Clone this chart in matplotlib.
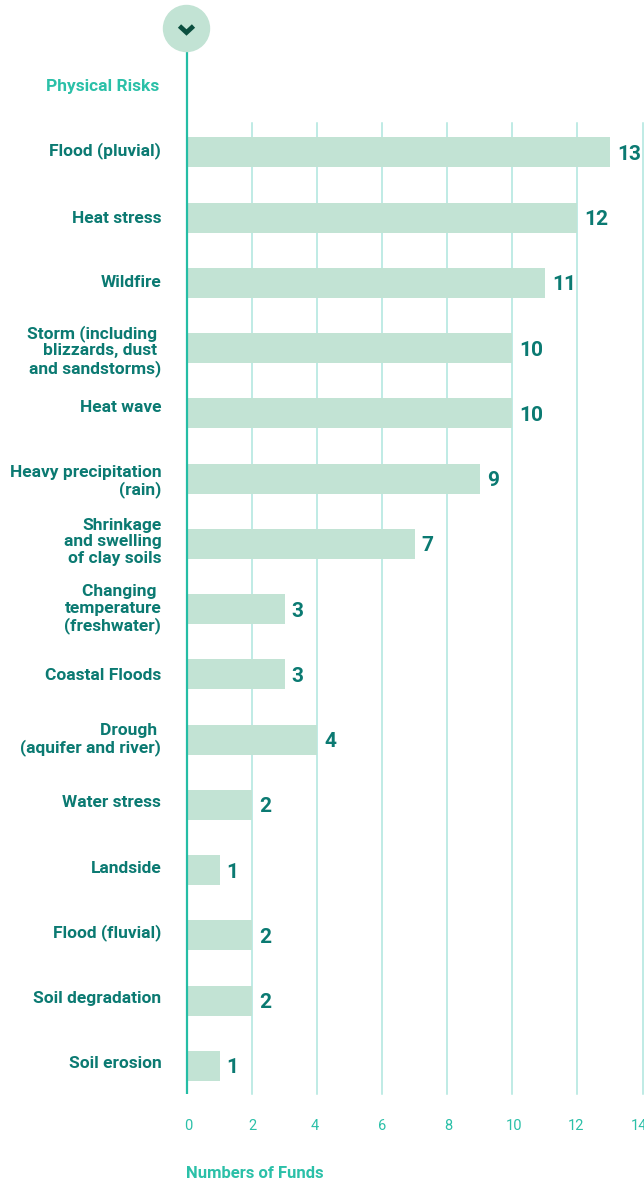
import matplotlib
matplotlib.use('Agg')
import matplotlib.pyplot as plt
from matplotlib.patches import Circle

W, H = 644, 1185

categories = ['Flood (pluvial)', 'Heat stress', 'Wildfire',
              'Storm (including \nblizzards, dust \nand sandstorms)', 'Heat wave',
              'Heavy precipitation\n(rain)', 'Shrinkage\nand swelling\nof clay soils',
              'Changing \ntemperature\n(freshwater)', 'Coastal Floods',
              'Drough \n(aquifer and river)', 'Water stress', 'Landside',
              'Flood (fluvial)', 'Soil degradation', 'Soil erosion']
values = [13, 12, 11, 10, 10, 9, 7, 3, 3, 4, 2, 1, 2, 2, 1]
x_ticks = [0, 2, 4, 6, 8, 10, 12, 14]

# label nudge relative to the bar centre, in pixels
label_shift = [2, -1, 0, -3, 6, -3, 2, 0, -1, 0, 2, 2, 3, 2, 2]

DARK = '#0b7a72'
TEAL = '#2bc0a8'
BAR = '#c2e3d4'
GRID = '#aee6de'
FONT = ['Roboto', 'Liberation Sans', 'DejaVu Sans']

fig = plt.figure(figsize=(W / 100, H / 100), dpi=100)
ax = fig.add_axes([187 / W, 1 - 1094 / H, 455.5 / W, (1094 - 123) / H])
ax.set_xlim(0, 14)
ax.set_ylim(14.432, -0.449)
ax.axis('off')

# Grid lines first, bars on top
for t in x_ticks[1:]:
    ax.axvline(t, color=GRID, lw=1.1, zorder=1, clip_on=False)

ypos = list(range(len(values)))
ax.barh(ypos, values, height=30 / 65.25, color=BAR, zorder=2)

# Value labels and category labels
for y, v, name, shift in zip(ypos, values, categories, label_shift):
    ax.annotate(str(v), (v, y), xytext=(5, -1.5), textcoords='offset points',
                ha='left', va='center', fontsize=15, fontweight='bold',
                color=DARK, family=FONT, zorder=4)
    ax.annotate(name, (0, y), xytext=(-18.5, shift * 0.72), textcoords='offset points',
                ha='right', va='center', ma='right', fontsize=12.5, fontweight='bold',
                linespacing=1.13, color=DARK, family=FONT)


def fx(px):
    return px / W


def fy(py):
    return 1 - py / H


# Tick labels
tick_px = [188, 252, 315, 382, 448, 514, 576, 639]
for t, px in zip(x_ticks, tick_px):
    fig.text(fx(px), fy(1126), str(t), ha='center', va='center', fontsize=10.5,
             color=TEAL, family=FONT)

fig.text(fx(159), fy(86), 'Physical Risks', ha='right', va='center', fontsize=12.5,
         fontweight='bold', color=TEAL, family=FONT)
fig.text(fx(186), fy(1174), 'Numbers of Funds', ha='left', va='center', fontsize=12,
         fontweight='bold', color=TEAL, family=FONT)

# Main axis line with the round marker on top
overlay = fig.add_axes([0, 0, 1, 1], facecolor='none')
overlay.set_xlim(0, W)
overlay.set_ylim(H, 0)
overlay.axis('off')
overlay.plot([187, 187], [50, 1094], color='#25bda5', lw=1.6, solid_capstyle='butt', zorder=3)
overlay.add_patch(Circle((186.5, 28.5), 23, color=BAR, zorder=4))
overlay.plot([179.5, 186.5, 193.5], [26, 32.5, 26], color='#0b4f3f', lw=3.4,
             solid_capstyle='butt', solid_joinstyle='miter', zorder=5)

fig.savefig('out.png', dpi=100)
